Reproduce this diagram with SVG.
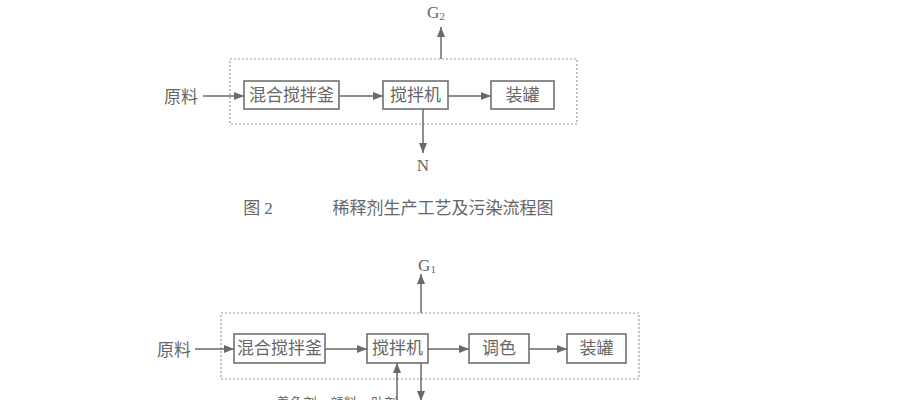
<svg xmlns="http://www.w3.org/2000/svg" width="915" height="400" viewBox="0 0 915 400">
<style>
.t{font-family:"Liberation Serif","Noto Sans CJK SC",serif;font-size:17px;fill:#666;text-anchor:middle;dominant-baseline:central}
.box{fill:none;stroke:#707070;stroke-width:1.6}
.dash{fill:none;stroke:#9a9a9a;stroke-width:1.2;stroke-dasharray:2 2}
.ln{stroke:#6a6a6a;stroke-width:1.5;fill:none;marker-end:url(#ah)}
</style>
<defs>
<marker id="ah" markerUnits="userSpaceOnUse" markerWidth="12" markerHeight="10" refX="10" refY="4" orient="auto">
<path d="M0,0 L10,4 L0,8 Z" fill="#6a6a6a"/>
</marker>
</defs>
<rect width="915" height="400" fill="#fff"/>

<!-- Figure 2 -->
<g id="fig2-boundary"><rect class="dash" x="230" y="59" width="347" height="65"/></g>
<g id="fig2-input"><text class="t" x="181" y="97">原料</text></g>
<g id="fig2-mixer"><rect class="box" x="244" y="81" width="95" height="28"/><text class="t" x="291.5" y="95">混合搅拌釜</text></g>
<g id="fig2-stirrer"><rect class="box" x="383" y="81" width="65" height="28"/><text class="t" x="415.5" y="95">搅拌机</text></g>
<g id="fig2-canning"><rect class="box" x="491" y="81" width="63" height="28"/><text class="t" x="522.5" y="95">装罐</text></g>
<g id="fig2-G2"><text class="t" x="436" y="12">G<tspan font-size="11" dy="4">2</tspan></text></g>
<g id="fig2-N"><text class="t" x="423" y="165">N</text></g>
<g id="fig2-connectors">
<line class="ln" x1="203" y1="96" x2="244" y2="96"/>
<line class="ln" x1="339" y1="96" x2="383" y2="96"/>
<line class="ln" x1="448" y1="96" x2="491" y2="96"/>
<line class="ln" x1="441" y1="59" x2="441" y2="27"/>
<line class="ln" x1="423" y1="109" x2="423" y2="153"/>
</g>
<g id="fig2-caption"><text class="t" x="258" y="208">图 2</text><text class="t" x="443" y="208">稀释剂生产工艺及污染流程图</text></g>

<!-- Figure 1 (lower) -->
<g id="fig1-boundary"><rect class="dash" x="221" y="313" width="418" height="66"/></g>
<g id="fig1-input"><text class="t" x="174" y="350">原料</text></g>
<g id="fig1-mixer"><rect class="box" x="234" y="334" width="91" height="29"/><text class="t" x="279.5" y="348.5">混合搅拌釜</text></g>
<g id="fig1-stirrer"><rect class="box" x="367" y="334" width="61" height="29"/><text class="t" x="397.5" y="348.5">搅拌机</text></g>
<g id="fig1-toning"><rect class="box" x="469" y="334" width="60" height="29"/><text class="t" x="499" y="348.5">调色</text></g>
<g id="fig1-canning"><rect class="box" x="567" y="334" width="59" height="29"/><text class="t" x="596.5" y="348.5">装罐</text></g>
<g id="fig1-G1"><text class="t" x="427" y="265">G<tspan font-size="11" dy="4">1</tspan></text></g>
<g id="fig1-additives"><text class="t" x="337" y="403" style="font-size:13.5px">着色剂、颜料、助剂</text></g>
<g id="fig1-connectors">
<line class="ln" x1="195" y1="349" x2="234" y2="349"/>
<line class="ln" x1="325" y1="349" x2="367" y2="349"/>
<line class="ln" x1="428" y1="349" x2="469" y2="349"/>
<line class="ln" x1="529" y1="349" x2="567" y2="349"/>
<line class="ln" x1="421" y1="313" x2="421" y2="274"/>
<line class="ln" x1="397" y1="402" x2="397" y2="363"/>
<line class="ln" x1="421" y1="363" x2="421" y2="401"/>
</g>
</svg>
